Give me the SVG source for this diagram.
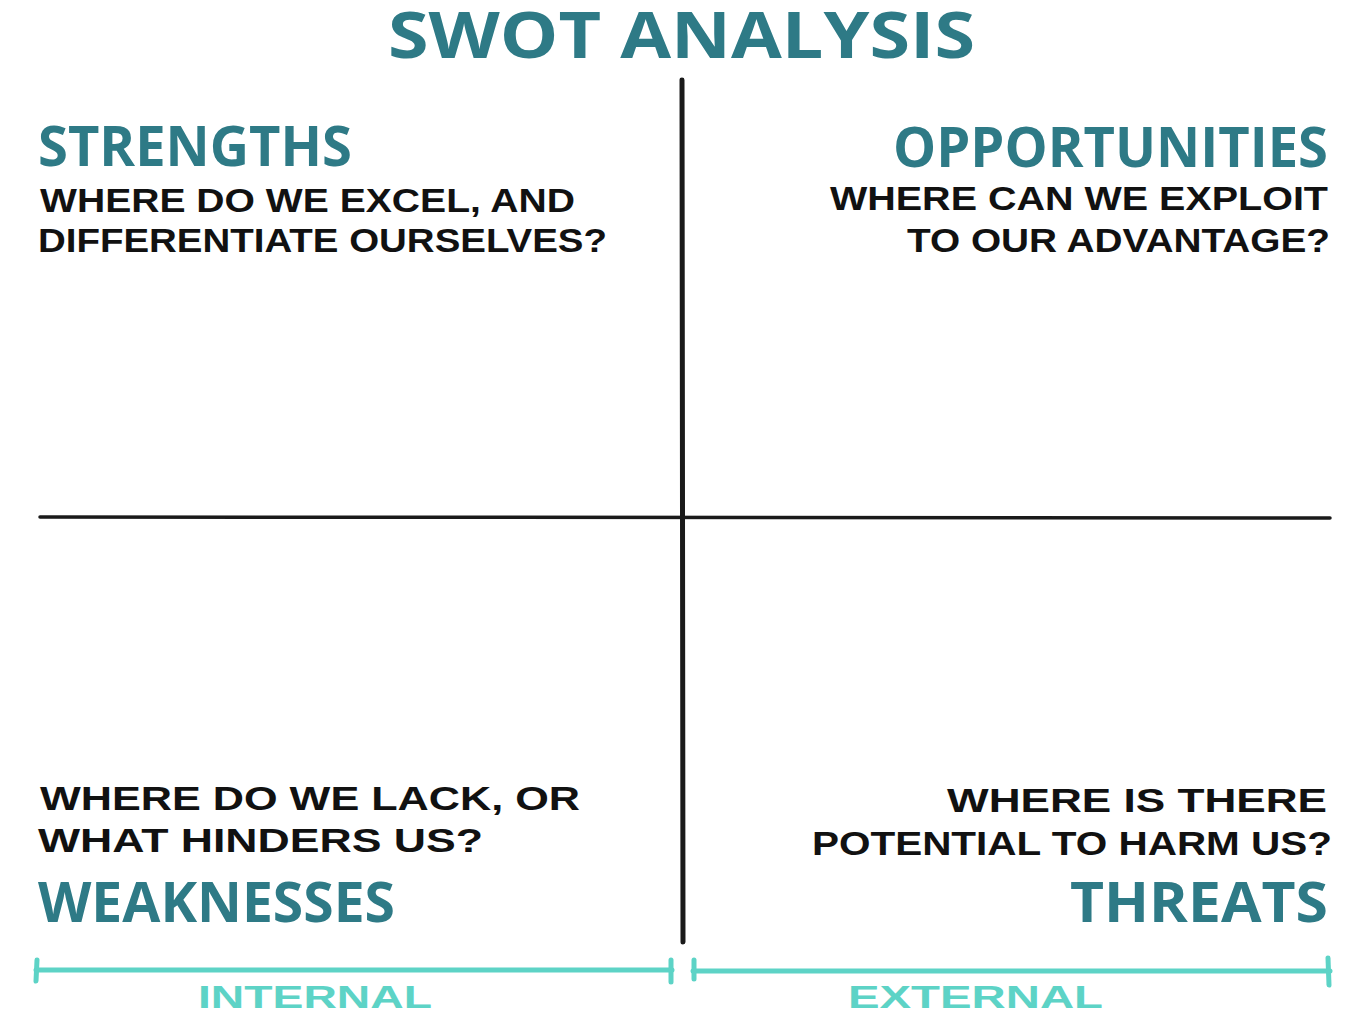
<svg xmlns="http://www.w3.org/2000/svg" width="1366" height="1024" viewBox="0 0 1366 1024">
<style>
.title{font-family:"Open Sans","Liberation Sans",sans-serif;font-weight:700;fill:#2e7a86}
.head{font-family:"Open Sans","Liberation Sans",sans-serif;font-weight:700;fill:#2e7a86;font-size:56px}
.q{font-family:"Liberation Sans",sans-serif;font-weight:700;font-size:34px;fill:#111}
.axis{font-family:"Liberation Sans",sans-serif;font-weight:700;font-size:32px;fill:#5dd3c6}
.br{stroke:#5dd3c6;stroke-width:5;stroke-linecap:round;fill:none}
</style>
<rect width="1366" height="1024" fill="#fff"/>
<text class="title" x="388" y="58" font-size="64" textLength="587" lengthAdjust="spacingAndGlyphs">SWOT ANALYSIS</text>
<g id="grid">
<line x1="682" y1="80" x2="683" y2="942" stroke="#1a1a1a" stroke-width="5" stroke-linecap="round"/>
<line x1="40" y1="517" x2="1330" y2="518" stroke="#1a1a1a" stroke-width="3.5" stroke-linecap="round"/>
</g>
<g id="strengths">
<text class="head" x="38" y="166" textLength="314" lengthAdjust="spacingAndGlyphs">STRENGTHS</text>
<text class="q" x="40" y="212" textLength="535" lengthAdjust="spacingAndGlyphs">WHERE DO WE EXCEL, AND</text>
<text class="q" x="38" y="252" textLength="569" lengthAdjust="spacingAndGlyphs">DIFFERENTIATE OURSELVES?</text>
</g>
<g id="opportunities">
<text class="head" x="893" y="167" textLength="435" lengthAdjust="spacingAndGlyphs">OPPORTUNITIES</text>
<text class="q" x="830" y="210" textLength="498" lengthAdjust="spacingAndGlyphs">WHERE CAN WE EXPLOIT</text>
<text class="q" x="907" y="252" textLength="423" lengthAdjust="spacingAndGlyphs">TO OUR ADVANTAGE?</text>
</g>
<g id="weaknesses">
<text class="q" x="40" y="810" textLength="540" lengthAdjust="spacingAndGlyphs">WHERE DO WE LACK, OR</text>
<text class="q" x="38" y="852" textLength="445" lengthAdjust="spacingAndGlyphs">WHAT HINDERS US?</text>
<text class="head" x="38" y="922" textLength="357" lengthAdjust="spacingAndGlyphs">WEAKNESSES</text>
</g>
<g id="threats">
<text class="q" x="947" y="812" textLength="380" lengthAdjust="spacingAndGlyphs">WHERE IS THERE</text>
<text class="q" x="812" y="855" textLength="520" lengthAdjust="spacingAndGlyphs">POTENTIAL TO HARM US?</text>
<text class="head" x="1070" y="922" textLength="258" lengthAdjust="spacingAndGlyphs">THREATS</text>
</g>
<g id="internal">
<line class="br" x1="36" y1="970" x2="672" y2="970"/>
<line class="br" x1="37" y1="960" x2="36" y2="981"/>
<line class="br" x1="671" y1="960" x2="671" y2="982"/>
<text class="axis" x="198" y="1008" textLength="234" lengthAdjust="spacingAndGlyphs">INTERNAL</text>
</g>
<g id="external">
<line class="br" x1="693" y1="971" x2="1330" y2="971"/>
<line class="br" x1="694" y1="960" x2="694" y2="979"/>
<line class="br" x1="1328" y1="958" x2="1329" y2="985"/>
<text class="axis" x="848" y="1008" textLength="255" lengthAdjust="spacingAndGlyphs">EXTERNAL</text>
</g>
</svg>
